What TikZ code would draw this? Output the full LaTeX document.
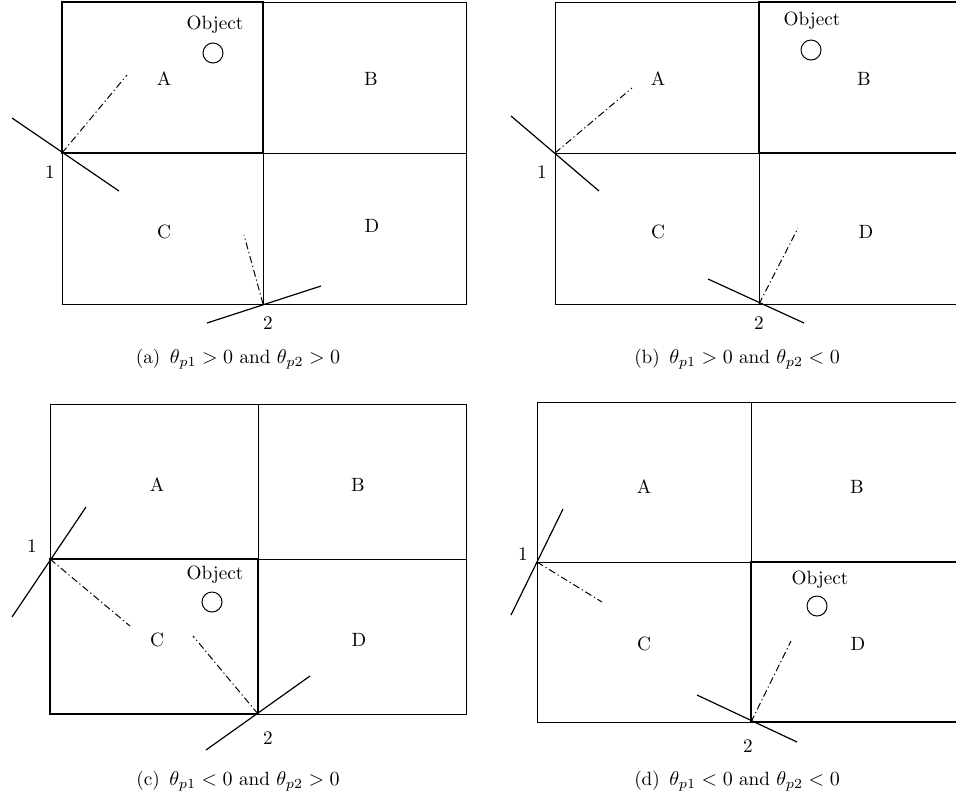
\documentclass[tikz,border=0pt]{standalone}
\usepackage{amsmath}
\usetikzlibrary{positioning}
\begin{document}
\begin{tikzpicture}[x=0.5pt, y=-0.5pt,
        grid/.style = {draw, line width=0.5pt},
        zone/.style = {draw, line width=1.3pt},
        sensor/.style = {draw, line width=0.6pt},
        beam/.style = {draw, line width=0.5pt, dash pattern=on 3.5pt off 1.5pt on 0.6pt off 1.5pt},
        lbl/.style = {font=\fontsize{9.6}{11}\selectfont, inner sep=0pt},
        obj/.style = {draw, circle, minimum size=10pt, inner sep=0pt, line width=0.5pt}
    ]
        \useasboundingbox (0,0) rectangle (956,799);
        \clip (0,0) rectangle (956,799);

        % (a) object in A
        \draw [grid] (62,2) rectangle (466,304);
        \draw [grid] (263,2) -- (263,304) (62,153) -- (466,153);
        \draw [zone] (62,2) rectangle (263,153);
        \node (aobj) [lbl] at (215,25) {Object};
        \node (acirc) [obj] at (213,53) {};
        \node (aA) [lbl] at (164,79) {A};
        \node (aB) [lbl] at (371,79) {B};
        \node (aC) [lbl] at (164,232) {C};
        \node (aD) [lbl] at (372,226) {D};
        \coordinate (as1) at (62,153);
        \coordinate (as1p) at (12,118);
        \coordinate (as1q) at (119,191);
        \coordinate (ab1) at (127,75);
        \coordinate (as2) at (263,304);
        \coordinate (as2p) at (207,323);
        \coordinate (as2q) at (321,286);
        \coordinate (ab2) at (244,235);
        \draw [sensor] (as1p) -- (as1q);
        \draw [beam] (as1) -- (ab1);
        \draw [sensor] (as2p) -- (as2q);
        \draw [beam] (as2) -- (ab2);
        \node (an1) [lbl] at (50,172) {1};
        \node (an2) [lbl] at (268,323) {2};
        \node (acap) [lbl] at (238,359) {(a)\enspace$\theta_{p1} > 0$ and $\theta_{p2} > 0$};

        % (b) object in B
        \draw [grid] (555,2) rectangle (963,304);
        \draw [grid] (759,2) -- (759,304) (555,153) -- (963,153);
        \draw [zone] (759,2) rectangle (963,153);
        \node (bobj) [lbl] at (812,21) {Object};
        \node (bcirc) [obj] at (811,50) {};
        \node (bA) [lbl] at (658,79) {A};
        \node (bB) [lbl] at (864,79) {B};
        \node (bC) [lbl] at (658,232) {C};
        \node (bD) [lbl] at (866,232) {D};
        \coordinate (bs1) at (555,153);
        \coordinate (bs1p) at (511,116);
        \coordinate (bs1q) at (599,191);
        \coordinate (bb1) at (632,88);
        \coordinate (bs2) at (759,304);
        \coordinate (bs2p) at (708,279);
        \coordinate (bs2q) at (804,323);
        \coordinate (bb2) at (798,228);
        \draw [sensor] (bs1p) -- (bs1q);
        \draw [beam] (bs1) -- (bb1);
        \draw [sensor] (bs2p) -- (bs2q);
        \draw [beam] (bs2) -- (bb2);
        \node (bn1) [lbl] at (542,172) {1};
        \node (bn2) [lbl] at (759,323) {2};
        \node (bcap) [lbl] at (737,359) {(b)\enspace$\theta_{p1} > 0$ and $\theta_{p2} < 0$};

        % (c) object in C
        \draw [grid] (50,404) rectangle (466,714);
        \draw [grid] (258,404) -- (258,714) (50,559) -- (466,559);
        \draw [zone] (50,559) rectangle (258,714);
        \node (cobj) [lbl] at (215,575) {Object};
        \node (ccirc) [obj] at (212,602) {};
        \node (cA) [lbl] at (157,485) {A};
        \node (cB) [lbl] at (358,485) {B};
        \node (cC) [lbl] at (157,640) {C};
        \node (cD) [lbl] at (359,640) {D};
        \coordinate (cs1) at (50,559);
        \coordinate (cs1p) at (12,617);
        \coordinate (cs1q) at (86,507);
        \coordinate (cb1) at (130,626);
        \coordinate (cs2) at (258,714);
        \coordinate (cs2p) at (206,750);
        \coordinate (cs2q) at (310,676);
        \coordinate (cb2) at (193,636);
        \draw [sensor] (cs1p) -- (cs1q);
        \draw [beam] (cs1) -- (cb1);
        \draw [sensor] (cs2p) -- (cs2q);
        \draw [beam] (cs2) -- (cb2);
        \node (cn1) [lbl] at (32,546) {1};
        \node (cn2) [lbl] at (268,738) {2};
        \node (ccap) [lbl] at (238,781) {(c)\enspace$\theta_{p1} < 0$ and $\theta_{p2} > 0$};

        % (d) object in D
        \draw [grid] (537,402) rectangle (965,722);
        \draw [grid] (751,402) -- (751,722) (537,562) -- (965,562);
        \draw [zone] (751,562) rectangle (965,722);
        \node (dobj) [lbl] at (820,580) {Object};
        \node (dcirc) [obj] at (817,606) {};
        \node (dA) [lbl] at (644,487) {A};
        \node (dB) [lbl] at (857,487) {B};
        \node (dC) [lbl] at (644,644) {C};
        \node (dD) [lbl] at (858,644) {D};
        \coordinate (ds1) at (537,562);
        \coordinate (ds1p) at (511,615);
        \coordinate (ds1q) at (563,509);
        \coordinate (db1) at (602,602);
        \coordinate (ds2) at (751,722);
        \coordinate (ds2p) at (697,695);
        \coordinate (ds2q) at (797,742);
        \coordinate (db2) at (791,641);
        \draw [sensor] (ds1p) -- (ds1q);
        \draw [beam] (ds1) -- (db1);
        \draw [sensor] (ds2p) -- (ds2q);
        \draw [beam] (ds2) -- (db2);
        \node (dn1) [lbl] at (523,554) {1};
        \node (dn2) [lbl] at (748,746) {2};
        \node (dcap) [lbl] at (737,781) {(d)\enspace$\theta_{p1} < 0$ and $\theta_{p2} < 0$};

    \end{tikzpicture}
\end{document}
